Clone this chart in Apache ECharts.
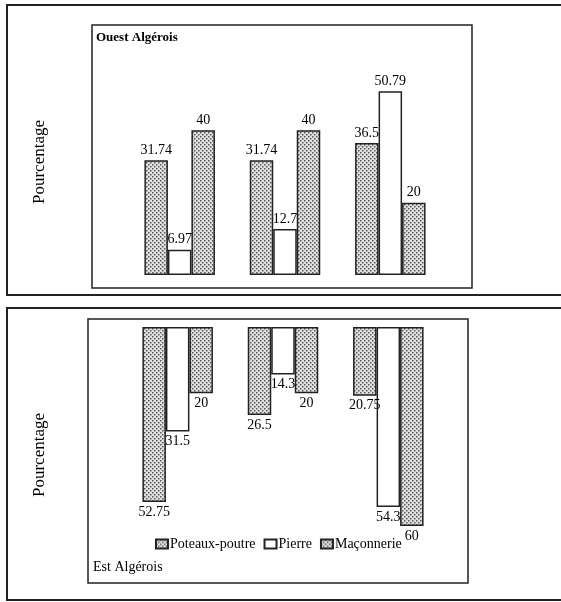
<!DOCTYPE html>
<html><head><meta charset="utf-8">
<script src="https://cdn.jsdelivr.net/npm/echarts@6/dist/echarts.min.js"></script>
<style>html,body{margin:0;padding:0;background:#fff}#c{width:561px;height:602px}</style>
</head><body><div id="c"></div>
<script>
const categories = ['G1', 'G2', 'G3'];
const seriesNames = ['Poteaux-poutre', 'Pierre', 'Maçonnerie'];
const ouestPoteaux = [31.74, 31.74, 36.5];
const ouestPierre = [6.97, 12.7, 50.79];
const ouestMaconnerie = [40, 40, 20];
const estPoteaux = [52.75, 26.5, 20.75];
const estPierre = [31.5, 14.3, 54.3];
const estMaconnerie = [20, 20, 60];

function makePattern(bg, dot) {
  const cv = document.createElement('canvas');
  cv.width = 4; cv.height = 4;
  const ctx = cv.getContext('2d');
  ctx.fillStyle = bg; ctx.fillRect(0, 0, 4, 4);
  ctx.fillStyle = dot;
  ctx.fillRect(0, 0, 1.5, 1.5);
  ctx.fillRect(2, 2, 1.5, 1.5);
  return cv;
}
const pat = { image: makePattern('#e0e0e0', '#5a5a5a'), repeat: 'repeat' };
const font = 'Liberation Serif';
const labelStyle = { fontFamily: font, fontSize: 14, color: '#000' };

const chart = echarts.init(document.getElementById('c'));
const styles = [
  { color: pat, borderColor: '#222', borderWidth: 1.5 },
  { color: '#fff', borderColor: '#222', borderWidth: 1.5 },
  { color: pat, borderColor: '#222', borderWidth: 1.5 }
];
function mk(name, data, idx, style, pos) {
  return {
    type: 'bar', name: name, data: data, xAxisIndex: idx, yAxisIndex: idx,
    barWidth: 23.5, barGap: '0%', itemStyle: style,
    label: Object.assign({ show: true, position: pos, distance: 3 }, labelStyle),
    animation: false
  };
}
chart.setOption({
  animation: false,
  grid: [
    { left: 127, width: 316, top: 58, height: 217 },
    { left: 125, width: 316, top: 327, height: 199 }
  ],
  xAxis: [
    { type: 'category', data: categories, gridIndex: 0, show: false },
    { type: 'category', data: categories, gridIndex: 1, show: false }
  ],
  yAxis: [
    { type: 'value', gridIndex: 0, min: 0, max: 60, show: false },
    { type: 'value', gridIndex: 1, min: 0, max: 60, inverse: true, show: false }
  ],
  legend: {
    data: seriesNames, left: 150, top: 532, itemWidth: 12, itemHeight: 9, itemGap: 8,
    icon: 'rect',
    textStyle: { fontFamily: font, fontSize: 14, color: '#000', padding: [0, 0, 0, -3] }
  },
  series: [
    mk(seriesNames[0], ouestPoteaux, 0, styles[0], 'top'),
    mk(seriesNames[1], ouestPierre, 0, styles[1], 'top'),
    mk(seriesNames[2], ouestMaconnerie, 0, styles[2], 'top'),
    mk(seriesNames[0], estPoteaux, 1, styles[0], 'bottom'),
    mk(seriesNames[1], estPierre, 1, styles[1], 'bottom'),
    mk(seriesNames[2], estMaconnerie, 1, styles[2], 'bottom')
  ],
  graphic: [
    { type: 'rect', shape: { x: 7, y: 5, width: 600, height: 290 }, style: { fill: 'none', stroke: '#222', lineWidth: 2 }, z: -1 },
    { type: 'rect', shape: { x: 92, y: 25, width: 380, height: 263 }, style: { fill: 'none', stroke: '#222', lineWidth: 1.5 }, z: -1 },
    { type: 'rect', shape: { x: 7, y: 308, width: 600, height: 292 }, style: { fill: 'none', stroke: '#222', lineWidth: 2 }, z: -1 },
    { type: 'rect', shape: { x: 88, y: 319, width: 380, height: 264 }, style: { fill: 'none', stroke: '#222', lineWidth: 1.5 }, z: -1 },
    { type: 'text', left: 96, top: 31, style: { text: 'Ouest Algérois', font: 'bold 13px "Liberation Serif"', fill: '#000' } },
    { type: 'text', left: 93, top: 560, style: { text: 'Est Algérois', font: '14px "Liberation Serif"', fill: '#000' } },
    { type: 'text', x: 40, y: 162, rotation: Math.PI / 2, style: { text: 'Pourcentage', font: '17px "Liberation Serif"', fill: '#000', align: 'center', verticalAlign: 'middle' } },
    { type: 'text', x: 40, y: 455, rotation: Math.PI / 2, style: { text: 'Pourcentage', font: '17px "Liberation Serif"', fill: '#000', align: 'center', verticalAlign: 'middle' } }
  ]
});
</script></body></html>
